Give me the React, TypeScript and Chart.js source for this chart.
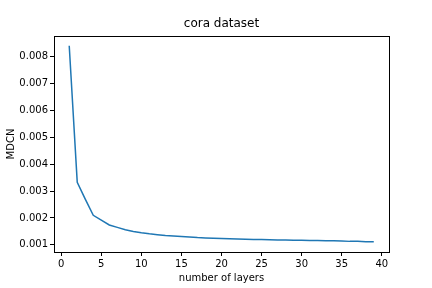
import React, { useEffect, useRef } from "react";
import { Chart, registerables } from "chart.js";

Chart.register(...registerables);

const layers = [
  1, 2, 3, 4, 5, 6, 7, 8, 9, 10, 11, 12, 13, 14, 15, 16, 17, 18, 19, 20,
  21, 22, 23, 24, 25, 26, 27, 28, 29, 30, 31, 32, 33, 34, 35, 36, 37, 38, 39,
];
const mdcn = [
  0.0084, 0.00333, 0.0027, 0.0021, 0.00192, 0.00174, 0.00165, 0.00156, 0.0015, 0.00145,
  0.00141, 0.00138, 0.00135, 0.00133, 0.00131, 0.00129, 0.00127, 0.00126, 0.00125, 0.00124,
  0.00123, 0.00122, 0.00121, 0.0012, 0.0012, 0.00119, 0.00118, 0.00118, 0.00117, 0.00117,
  0.00116, 0.00116, 0.00115, 0.00115, 0.00114, 0.00113, 0.00113, 0.00112, 0.00112,
];
const xTicks = [0, 5, 10, 15, 20, 25, 30, 35, 40];
const yTicks = [0.001, 0.002, 0.003, 0.004, 0.005, 0.006, 0.007, 0.008];
const titleText = "cora dataset";
const xLabel = "number of layers";
const yLabel = "MDCN";

const frame = {
  id: "frame",
  afterDraw(chart: any) {
    const { ctx, chartArea } = chart;
    ctx.save();
    ctx.strokeStyle = "#000";
    ctx.lineWidth = 1;
    ctx.strokeRect(
      Math.round(chartArea.left) + 0.5,
      Math.round(chartArea.top) + 0.5,
      Math.round(chartArea.right - chartArea.left),
      Math.round(chartArea.bottom - chartArea.top)
    );
    ctx.fillStyle = "#000";
    ctx.font = "12px 'DejaVu Sans', sans-serif";
    ctx.textAlign = "center";
    ctx.textBaseline = "middle";
    ctx.fillText(titleText, (chartArea.left + chartArea.right) / 2, chartArea.top - 12);
    ctx.restore();
  },
};

export default function App() {
  const ref = useRef<HTMLCanvasElement>(null);
  useEffect(() => {
    document.body.style.margin = "0";
    Chart.defaults.font.family = "'DejaVu Sans', sans-serif";
    Chart.defaults.color = "#000";
    const chart = new Chart(ref.current!, {
      type: "line",
      data: {
        datasets: [
          {
            data: layers.map((x, i) => ({ x, y: mdcn[i] })),
            borderColor: "#1f77b4",
            borderWidth: 1.5,
            pointRadius: 0,
            fill: false,
            tension: 0,
          },
        ],
      },
      plugins: [frame],
      options: {
        animation: false,
        responsive: false,
        layout: { padding: { left: 0, right: 43, top: 36, bottom: 0 } },
        plugins: {
          legend: { display: false },
          tooltip: { enabled: false },
          title: { display: false },
        },
        scales: {
          x: {
            type: "linear",
            min: -0.9,
            max: 40.9,
            afterBuildTicks: (s: any) => {
              s.ticks = xTicks.map((v) => ({ value: v }));
            },
            afterFit: (s: any) => {
              s.height = 36;
            },
            ticks: { font: { size: 10 }, color: "#000", padding: 2, maxRotation: 0, autoSkip: false },
            grid: { display: true, drawOnChartArea: false, tickLength: 4, color: "#000" },
            border: { display: false },
            title: { display: true, text: xLabel, font: { size: 10 }, color: "#000", padding: { top: 0, bottom: 4 } },
          },
          y: {
            type: "linear",
            min: 0.000735,
            max: 0.008765,
            afterBuildTicks: (s: any) => {
              s.ticks = yTicks.map((v) => ({ value: v }));
            },
            afterFit: (s: any) => {
              s.width = 54;
            },
            ticks: {
              font: { size: 10 },
              color: "#000",
              padding: 2,
              autoSkip: false,
              callback: (v: any) => Number(v).toFixed(3),
            },
            grid: { display: true, drawOnChartArea: false, tickLength: 4, color: "#000" },
            border: { display: false },
            title: { display: true, text: yLabel, font: { size: 10 }, color: "#000", padding: { top: 5, bottom: 0 } },
          },
        },
      },
    });
    return () => chart.destroy();
  }, []);
  return (
    <div style={{ position: "fixed", left: 0, top: 0, width: 432, height: 288, background: "#fff" }}>
      <canvas ref={ref} width={432} height={288} style={{ width: 432, height: 288 }} />
    </div>
  );
}
